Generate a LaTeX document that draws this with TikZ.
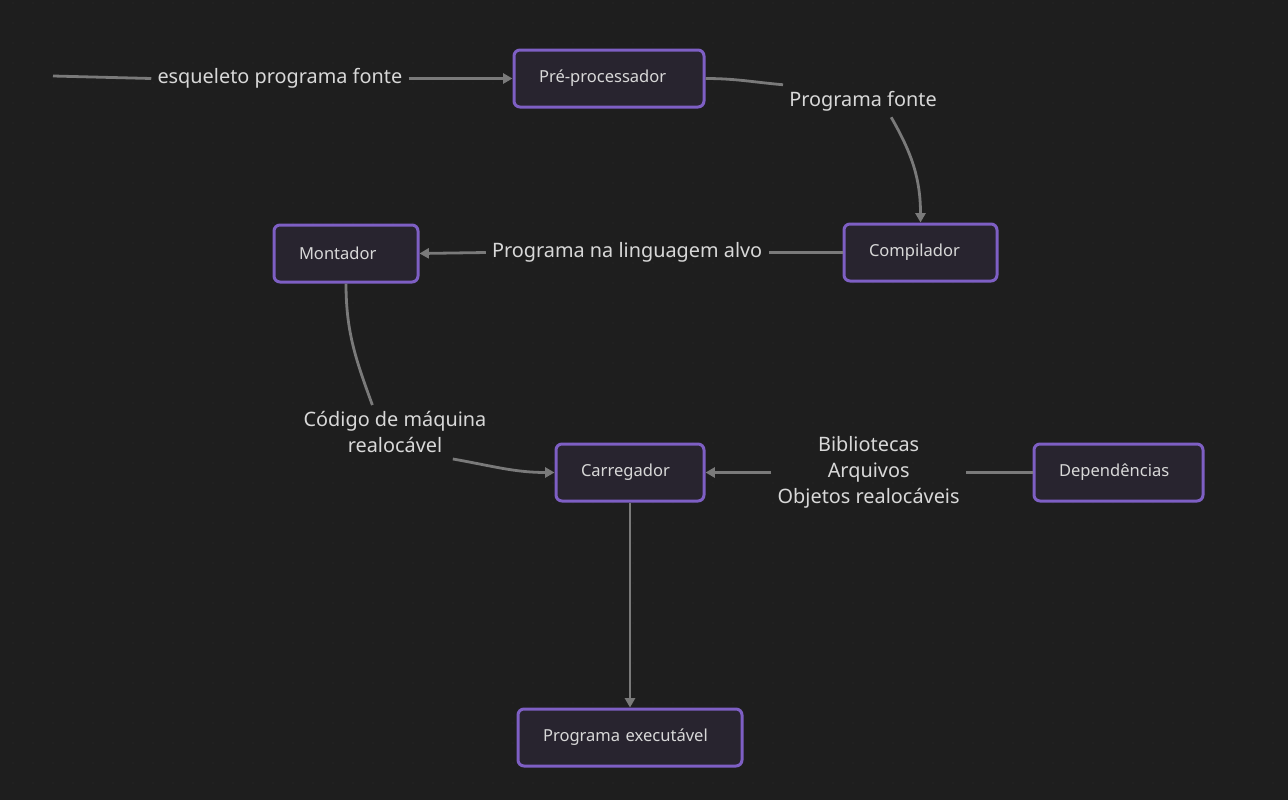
\documentclass[tikz,border=0pt]{standalone}
\usepackage{fontspec}
\setmainfont{Noto Sans}
\usepackage{xcolor}
\usetikzlibrary{positioning}
\usetikzlibrary{arrows.meta}
\tikzset{>={Triangle[width=7.5pt,length=7pt]}}

\definecolor{bgcol}{HTML}{1E1E1E}
\definecolor{dotcol}{HTML}{2E2E2E}
\definecolor{boxfill}{HTML}{28242F}
\definecolor{boxline}{HTML}{7E5FC4}
\definecolor{linecol}{HTML}{7A7A7A}
\definecolor{txtcol}{HTML}{D8D8D8}

\begin{document}
\begin{tikzpicture}[x=0.75pt, y=-0.75pt, box/.style={rectangle, rounded corners=4.5pt, draw=boxline, fill=boxfill, line width=2.25pt, minimum height=42.75pt, inner xsep=18.75pt, align=left, text=txtcol, font=\fontsize{12.4}{14}\selectfont}, lbl/.style={draw=none, fill=none, inner sep=4.5pt, align=center, text=txtcol, font=\fontsize{14.9}{19.5}\selectfont}, link/.style={draw=linecol, line width=2.1pt}]

    %Background
    \fill[bgcol] (0,0) rectangle (1288,800);
    \useasboundingbox (0,0) rectangle (1288,800);
    \foreach \x in {13,33,...,1288}
        \foreach \y in {3,23,...,800}
            \fill[dotcol] (\x,\y) circle (0.5pt);

    %Nodes
    \node[box, text width=105pt](pre) at (609,78.5){Pré-processador};
    \node[box, text width=77.25pt](comp) at (920.5,252.5){Compilador};
    \node[box, text width=70.5pt](mont) at (346,253.5){Montador};
    \node[box, text width=73.5pt](carr) at (630,472.5){Carregador};
    \node[box, text width=89.25pt](dep) at (1118.5,472.5){Dependências};
    \node[box, text width=130.5pt](exe) at (630,737.5){Programa executável};

    \coordinate (src) at (53,76);
    \node[lbl](esq)[left=78pt of pre]{esqueleto programa fonte};
    \node[lbl](pf) at (863,101){Programa fonte};
    \node[lbl](alvo)[left=55.5pt of comp]{Programa na linguagem alvo};
    \node[lbl](cod) at (395,432){Código de máquina\\realocável};
    \node[lbl](bib)[left=50pt of dep]{Bibliotecas\\Arquivos\\Objetos realocáveis};

    %Lines
    \draw[link] (src) -- (esq.west);
    \draw[link, ->] (esq.east) -- (pre.west);
    \draw[link] (pre.east) to[out=0, in=175] (pf.north west);
    \draw[link, ->] (pf.-30) to[out=-60, in=90] (comp.north);
    \draw[link] (comp.west) -- (alvo.east);
    \draw[link, ->] (alvo.west) -- (mont.east);
    \draw[link] (mont.south) to[out=-90, in=110] (cod.130);
    \draw[link, ->] (cod.-25) to[out=-10, in=180] (carr.west);
    \draw[link] (dep.west) -- (bib.east);
    \draw[link, ->] (bib.west) -- (carr.east);
    \draw[link, ->] (carr.south) -- (exe.north);

\end{tikzpicture}
\end{document}
